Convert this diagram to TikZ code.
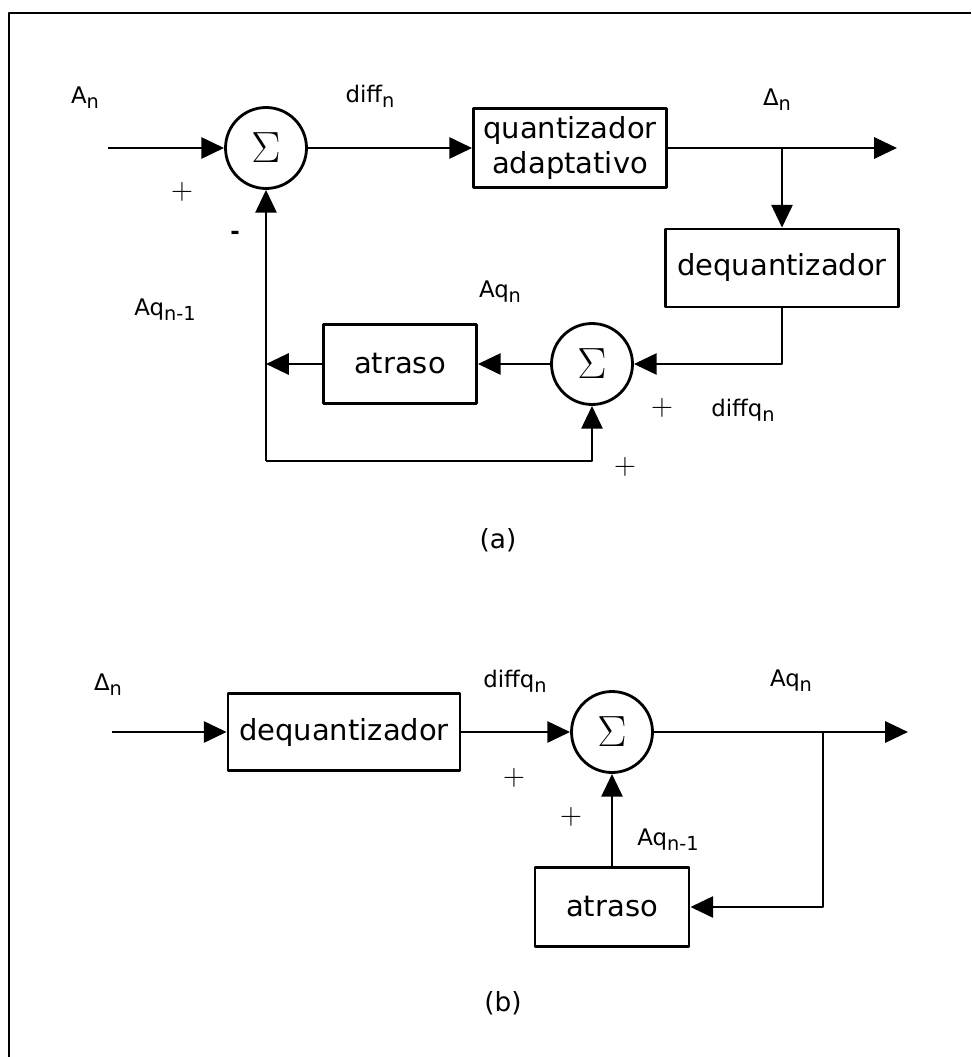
\documentclass[tikz,border=0pt]{standalone}
\usepackage{fontspec}
\setmainfont{DejaVu Sans}
\usetikzlibrary{arrows.meta}
\newcommand{\sbs}[1]{\raisebox{-0.4ex}{\fontsize{11}{13}\selectfont #1}}
\tikzset{
  blk/.style={draw,line width=1.6pt,inner sep=0pt,align=center,font=\fontsize{16.5}{20}\selectfont},
  sumnode/.style={draw,circle,line width=1.6pt,minimum size=1.62cm,inner sep=0pt,font=\fontsize{24}{28}\selectfont},
  lbl/.style={inner sep=0pt,font=\fontsize{13}{15}\selectfont},
  sgn/.style={inner sep=0pt,font=\fontsize{17}{20}\selectfont},
  capt/.style={inner sep=0pt,font=\fontsize{15}{18}\selectfont},
  wire/.style={line width=1.6pt},
  flow/.style={wire,-{Triangle[length=13pt,width=12pt]}},
}

\begin{document}
\begin{tikzpicture}[x=0.02cm,y=-0.02cm,line join=round]
  \useasboundingbox (0,0) rectangle (971,1057);
  \draw[line width=1pt] (9,1057) -- (9,13) -- (971,13);

  \node[sumnode] (S1) at (266,148) {$\Sigma$};
  \node[blk,minimum width=3.86cm,minimum height=1.58cm] (Q) at (570,148) {quantizador\\adaptativo};
  \node[blk,minimum width=4.66cm,minimum height=1.56cm] (DA) at (782,268) {dequantizador};
  \node[sumnode] (S2) at (592,364) {$\Sigma$};
  \node[blk,minimum width=3.06cm,minimum height=1.58cm] (TA) at (400,364) {atraso};
  \coordinate (inA) at (108,148);
  \coordinate (outA) at (897,148);
  \coordinate (brA) at (782,148);
  \coordinate (loopA) at (266,461);
  \draw[flow] (inA) -- (S1);
  \draw[flow] (S1) -- (Q);
  \draw[flow] (Q) -- (outA);
  \draw[flow] (brA) -- (DA);
  \draw[flow] (DA.south) |- (S2.east);
  \draw[flow] (S2) -- (TA);
  \draw[flow] (TA.west) -- (TA.west -| loopA);
  \draw[flow] (loopA) -- (S1.south);
  \draw[flow] (loopA) -| (S2.south);
  \node[lbl] (lAn) at (85,98) {A\sbs{n}};
  \node[lbl] (lDiff) at (370,96) {diff\sbs{n}};
  \node[lbl] (lDelta) at (777,100) {Δ\sbs{n}};
  \node[sgn] (pA1) at (182,192) {$+$};
  \node[lbl] (mA1) at (235,235) {\textbf{-}};
  \node[lbl] (lAqPrev) at (165,310) {Aq\sbs{n-1}};
  \node[lbl] (lAq) at (500,292) {Aq\sbs{n}};
  \node[lbl] (lDiffq) at (743,410) {diffq\sbs{n}};
  \node[sgn] (pA2) at (662,408) {$+$};
  \node[sgn] (pA3) at (625,467) {$+$};
  \node[capt] (capA) at (498,540) {(a)};

  \node[blk,minimum width=4.64cm,minimum height=1.54cm] (DB) at (344,732) {dequantizador};
  \node[sumnode] (SB) at (612,732) {$\Sigma$};
  \node[blk,minimum width=3.08cm,minimum height=1.58cm] (TB) at (612,907) {atraso};
  \coordinate (inB) at (112,732);
  \coordinate (outB) at (908,732);
  \coordinate (brB) at (823,732);
  \draw[flow] (inB) -- (DB);
  \draw[flow] (DB) -- (SB);
  \draw[flow] (SB) -- (outB);
  \draw[flow] (brB) |- (TB.east);
  \draw[flow] (TB) -- (SB);
  \node[lbl] (lDeltaB) at (108,685) {Δ\sbs{n}};
  \node[lbl] (lDiffqB) at (515,681) {diffq\sbs{n}};
  \node[lbl] (lAqB) at (791,681) {Aq\sbs{n}};
  \node[sgn] (pB1) at (514,778) {$+$};
  \node[sgn] (pB2) at (571,817) {$+$};
  \node[lbl] (lAqPrevB) at (668,840) {Aq\sbs{n-1}};
  \node[capt] (capB) at (503,1003) {(b)};
\end{tikzpicture}
\end{document}
